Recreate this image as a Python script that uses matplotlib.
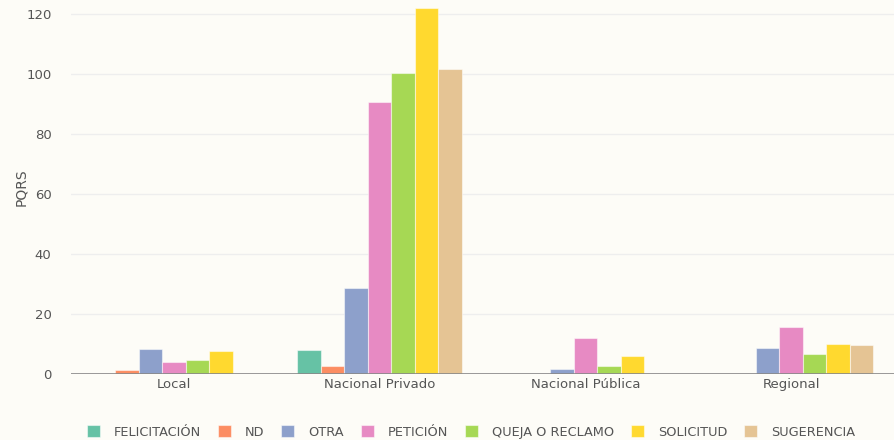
import numpy as np
import matplotlib.pyplot as plt

# categorias y series
categorias = ['Local', 'Nacional Privado', 'Nacional Pública', 'Regional']
tipos = ['FELICITACIÓN', 'ND', 'OTRA', 'PETICIÓN', 'QUEJA O RECLAMO', 'SOLICITUD', 'SUGERENCIA']
felicitacion = [0, 8.0, 0, 0]
nd = [1.5, 2.7, 0, 0]
otra = [8.3, 28.6, 1.8, 8.8]
peticion = [4.0, 90.7, 12.1, 15.6]
queja = [4.7, 100.2, 2.7, 6.8]
solicitud = [7.7, 122.1, 6.1, 9.9]
sugerencia = [0, 101.6, 0, 9.6]
colores = ['#66c2a5', '#fc8d62', '#8da0cb', '#e78ac3', '#a6d854', '#ffd92f', '#e5c494']

series = [felicitacion, nd, otra, peticion, queja, solicitud, sugerencia]

fondo = '#fdfcf7'
fig = plt.figure(figsize=(8.94, 4.4), dpi=100, facecolor=fondo)
ax = fig.add_axes([71 / 894, 1 - 374 / 440, 1 - 71 / 894, 374 / 440])
ax.set_facecolor(fondo)

x = np.arange(len(categorias))
n = len(series)
ancho = 0.8 / n
for i, (vals, nombre, c) in enumerate(zip(series, tipos, colores)):
    pos = x - 0.4 + ancho * (i + 0.5)
    ax.bar(pos, vals, width=ancho, color=c, edgecolor=(1, 1, 1, 0.5),
           linewidth=0.8, label=nombre, zorder=3)

ax.set_xlim(-0.5, len(categorias) - 0.5)
ax.set_ylim(0, 124.7)
ax.set_yticks([0, 20, 40, 60, 80, 100, 120])
ax.set_xticks(x)
ax.set_xticklabels(categorias)
ax.grid(axis='y', color='#eeeeee', linewidth=1, zorder=0)
ax.axhline(0, color='#888888', linewidth=1.2, zorder=4)
for s in ax.spines.values():
    s.set_visible(False)
ax.tick_params(axis='both', length=0, colors='#555555', labelsize=9.5)
ax.tick_params(axis='x', pad=3)
ax.tick_params(axis='y', pad=14)
ax.set_ylabel('PQRS', color='#555555', fontsize=10)
ax.yaxis.set_label_coords((28 - 71) / 823, 0.5)

leg = fig.legend(loc='center', bbox_to_anchor=(0.527, 8 / 440),
                 ncol=7, frameon=False, fontsize=9.3, handlelength=1.0,
                 handleheight=1.0, handletextpad=1.1, columnspacing=1.3)
for t in leg.get_texts():
    t.set_color('#555555')

fig.savefig('out.png', dpi=100, facecolor=fondo)
